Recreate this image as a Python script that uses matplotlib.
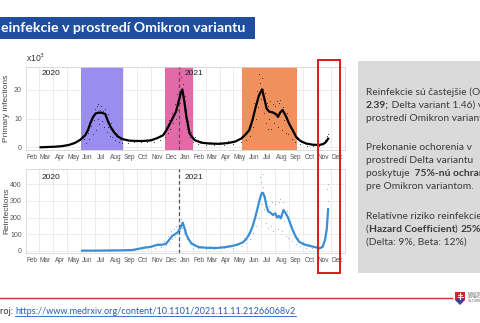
import numpy as np
import matplotlib
matplotlib.use("Agg")
import matplotlib.pyplot as plt
from matplotlib.patches import Rectangle, Polygon

# ---------------- data ----------------
# 7-day average of primary infections (x10^3)
prim_dates = ["2020-03-04", "2020-03-20", "2020-04-05", "2020-04-20", "2020-05-05", "2020-05-18",
              "2020-05-30", "2020-06-10", "2020-06-16", "2020-06-21", "2020-06-27", "2020-07-03",
              "2020-07-10", "2020-07-17", "2020-07-24", "2020-07-30", "2020-08-05", "2020-08-11",
              "2020-08-20", "2020-09-01", "2020-09-15", "2020-10-01", "2020-10-15", "2020-11-01",
              "2020-11-15", "2020-11-28", "2020-12-06", "2020-12-13", "2020-12-20", "2020-12-26",
              "2020-12-31", "2021-01-05", "2021-01-09", "2021-01-13", "2021-01-18", "2021-01-25",
              "2021-02-05", "2021-02-20", "2021-03-10", "2021-04-01", "2021-04-20", "2021-05-05",
              "2021-05-18", "2021-05-28", "2021-06-05", "2021-06-12", "2021-06-19", "2021-06-26",
              "2021-07-03", "2021-07-08", "2021-07-13", "2021-07-19", "2021-07-26", "2021-08-03",
              "2021-08-07", "2021-08-12", "2021-08-17", "2021-08-24", "2021-09-01", "2021-09-08",
              "2021-09-16", "2021-09-25", "2021-10-08", "2021-10-22", "2021-11-05", "2021-11-14",
              "2021-11-20", "2021-11-25"]
prim_avg = [0.0, 0.1, 0.2, 0.4, 0.8, 1.5,
            2.6, 4.2, 6.0, 8.3, 10.5, 11.8,
            12.1, 12.0, 11.6, 9.0, 7.0, 5.5,
            3.8, 2.8, 2.3, 2.2, 2.2, 2.4,
            3.2, 4.2, 6.2, 8.3, 10.5, 12.4,
            15.4, 18.5, 20.2, 16.5, 10.6, 4.8,
            2.5, 1.6, 1.3, 1.2, 1.5, 2.0,
            3.0, 4.5, 6.0, 9.5, 14.0, 18.0,
            20.2, 17.0, 13.5, 12.4, 12.2, 11.5,
            10.6, 12.2, 13.0, 11.0, 8.0, 6.0,
            3.6, 2.2, 1.3, 0.9, 0.8, 1.1,
            1.8, 3.0]

# daily primary infections (x10^3), the dots
prim_dot_dates = ["2020-06-08", "2020-06-12", "2020-06-15", "2020-06-19", "2020-06-23", "2020-06-26",
                  "2020-06-29", "2020-07-01", "2020-07-03", "2020-07-05", "2020-07-07", "2020-07-09",
                  "2020-07-11", "2020-07-13", "2020-07-15", "2020-07-17", "2020-07-19", "2020-07-21",
                  "2020-07-23", "2020-07-25", "2020-07-27", "2020-07-29", "2020-07-31", "2020-08-03",
                  "2020-08-05", "2020-08-08", "2020-08-11", "2020-08-14", "2020-08-18", "2020-08-22",
                  "2020-08-26", "2020-08-30", "2020-09-05", "2020-09-12", "2020-09-19", "2020-09-26",
                  "2020-10-03", "2020-10-10", "2020-10-17", "2020-10-24", "2020-10-31", "2020-11-07",
                  "2020-11-14", "2020-11-21", "2020-11-28", "2020-12-02", "2020-12-05", "2020-12-08",
                  "2020-12-11", "2020-12-14", "2020-12-17", "2020-12-20", "2020-12-23", "2020-12-26",
                  "2020-12-29", "2020-12-31", "2021-01-02", "2021-01-04", "2021-01-06", "2021-01-08",
                  "2021-01-10", "2021-01-12", "2021-01-14", "2021-01-16", "2021-01-18", "2021-01-20",
                  "2021-01-22", "2021-01-25", "2021-01-28", "2021-02-01", "2021-02-05", "2021-02-12",
                  "2021-02-20", "2021-03-01", "2021-03-10", "2021-03-20", "2021-04-01", "2021-04-10",
                  "2021-04-20", "2021-05-01", "2021-05-10", "2021-05-17", "2021-05-24", "2021-05-29",
                  "2021-06-03", "2021-06-07", "2021-06-10", "2021-06-13", "2021-06-16", "2021-06-19",
                  "2021-06-22", "2021-06-25", "2021-06-27", "2021-06-29", "2021-07-01", "2021-07-03",
                  "2021-07-05", "2021-07-07", "2021-07-09", "2021-07-11", "2021-07-13", "2021-07-15",
                  "2021-07-17", "2021-07-19", "2021-07-21", "2021-07-23", "2021-07-26", "2021-07-29",
                  "2021-08-01", "2021-08-04", "2021-08-06", "2021-08-09", "2021-08-12", "2021-08-15",
                  "2021-08-18", "2021-08-21", "2021-08-24", "2021-08-27", "2021-08-30", "2021-09-03",
                  "2021-09-06", "2021-09-10", "2021-09-14", "2021-09-18", "2021-09-25", "2021-10-02",
                  "2021-10-09", "2021-10-16", "2021-10-23", "2021-10-30", "2021-11-06", "2021-11-13",
                  "2021-11-19", "2021-11-23", "2021-11-25"]
prim_dots = [3.0, 1.5, 5.0, 3.0, 7.5, 4.5,
             9.5, 13.5, 6.0, 14.5, 10.0, 15.0,
             8.0, 13.0, 14.5, 9.0, 12.5, 7.0,
             13.5, 10.5, 5.5, 11.5, 7.0, 4.0,
             8.5, 3.5, 6.5, 2.5, 4.5, 2.0,
             3.0, 1.5, 2.8, 1.6, 2.6, 1.7,
             2.5, 1.8, 2.6, 1.7, 2.8, 1.9,
             3.5, 2.5, 5.0, 3.5, 7.0, 5.0,
             9.5, 6.5, 12.0, 8.5, 15.0, 10.0,
             18.5, 13.0, 23.0, 15.5, 24.5, 18.0,
             22.0, 13.0, 18.0, 9.5, 13.5, 6.5,
             9.0, 3.5, 5.5, 2.0, 3.5, 1.2,
             2.2, 0.8, 1.9, 0.9, 1.8, 0.9,
             2.2, 1.3, 2.8, 1.8, 4.0, 2.5,
             6.5, 4.0, 10.5, 7.0, 15.5, 10.0,
             19.5, 14.0, 25.5, 22.5, 17.0, 24.0,
             20.5, 12.0, 19.0, 8.5, 15.5, 6.5,
             14.5, 10.0, 16.0, 6.5, 15.0, 8.5,
             14.5, 16.0, 7.0, 15.5, 16.5, 6.0,
             14.0, 9.5, 5.0, 12.0, 4.5, 8.0,
             3.0, 5.0, 2.0, 3.0, 1.2, 1.8,
             0.6, 1.2, 0.5, 1.0, 0.5, 1.5,
             2.5, 4.0, 4.5]

# 7-day average of reinfections
reinf_dates = ["2020-06-03", "2020-07-01", "2020-08-01", "2020-09-01", "2020-09-22", "2020-10-14",
               "2020-11-01", "2020-11-14", "2020-11-28", "2020-12-05", "2020-12-12", "2020-12-18",
               "2020-12-24", "2020-12-30", "2021-01-05", "2021-01-10", "2021-01-14", "2021-01-18",
               "2021-01-24", "2021-01-29", "2021-02-08", "2021-02-16", "2021-03-05", "2021-03-25",
               "2021-04-10", "2021-04-25", "2021-05-10", "2021-05-22", "2021-05-29", "2021-06-05",
               "2021-06-12", "2021-06-18", "2021-06-23", "2021-06-28", "2021-07-02", "2021-07-05",
               "2021-07-09", "2021-07-13", "2021-07-17", "2021-07-22", "2021-07-27", "2021-08-01",
               "2021-08-05", "2021-08-09", "2021-08-13", "2021-08-19", "2021-08-24", "2021-08-29",
               "2021-09-04", "2021-09-09", "2021-09-15", "2021-09-22", "2021-10-01", "2021-10-10",
               "2021-10-21", "2021-11-01", "2021-11-08", "2021-11-13", "2021-11-18", "2021-11-22",
               "2021-11-25"]
reinf_avg = [2, 2, 3, 4, 6, 18,
             25, 36, 38, 45, 70, 90,
             100, 112, 140, 169, 135, 96,
             65, 46, 30, 22, 19, 18,
             22, 28, 38, 52, 70, 100,
             145, 200, 255, 310, 345, 348,
             320, 265, 235, 228, 215, 225,
             200, 210, 195, 245, 225, 200,
             155, 120, 85, 56, 42, 34,
             27, 20, 18, 25, 66, 130,
             250]

# daily reinfections, the dots
reinf_dot_dates = ["2020-09-20", "2020-09-28", "2020-10-05", "2020-10-12", "2020-10-19", "2020-10-26",
                   "2020-11-02", "2020-11-09", "2020-11-16", "2020-11-23", "2020-11-30", "2020-12-04",
                   "2020-12-08", "2020-12-12", "2020-12-15", "2020-12-18", "2020-12-21", "2020-12-24",
                   "2020-12-27", "2020-12-30", "2021-01-02", "2021-01-04", "2021-01-06", "2021-01-08",
                   "2021-01-11", "2021-01-13", "2021-01-16", "2021-01-19", "2021-01-22", "2021-01-25",
                   "2021-01-29", "2021-02-02", "2021-02-06", "2021-02-12", "2021-02-20", "2021-03-01",
                   "2021-03-10", "2021-03-20", "2021-04-01", "2021-04-10", "2021-04-20", "2021-05-01",
                   "2021-05-10", "2021-05-17", "2021-05-24", "2021-05-29", "2021-06-03", "2021-06-07",
                   "2021-06-10", "2021-06-14", "2021-06-17", "2021-06-20", "2021-06-23", "2021-06-26",
                   "2021-06-28", "2021-06-30", "2021-07-02", "2021-07-04", "2021-07-06", "2021-07-08",
                   "2021-07-10", "2021-07-12", "2021-07-14", "2021-07-16", "2021-07-19", "2021-07-22",
                   "2021-07-25", "2021-07-28", "2021-07-31", "2021-08-03", "2021-08-06", "2021-08-09",
                   "2021-08-12", "2021-08-15", "2021-08-18", "2021-08-21", "2021-08-24", "2021-08-27",
                   "2021-08-30", "2021-09-03", "2021-09-07", "2021-09-11", "2021-09-15", "2021-09-19",
                   "2021-09-24", "2021-09-30", "2021-10-07", "2021-10-14", "2021-10-21", "2021-10-28",
                   "2021-11-04", "2021-11-10", "2021-11-16", "2021-11-20", "2021-11-23", "2021-11-24",
                   "2021-11-25"]
reinf_dots = [12, 4, 20, 10, 28, 12,
              32, 16, 45, 22, 60, 35,
              90, 55, 120, 70, 130, 85,
              150, 100, 180, 120, 190, 140,
              175, 110, 125, 70, 80, 40,
              55, 20, 35, 15, 30, 12,
              28, 10, 30, 15, 38, 20,
              50, 30, 75, 45, 110, 70,
              160, 110, 230, 150, 300, 200,
              440, 410, 280, 460, 380, 250,
              330, 170, 300, 140, 270, 150,
              290, 120, 280, 300, 130, 290,
              310, 120, 290, 180, 90, 240,
              80, 180, 60, 120, 40, 80,
              30, 55, 20, 40, 15, 30,
              12, 28, 60, 120, 370, 400,
              300]

# waves shaded in the top panel
wave_starts = ["2020-06-01", "2020-12-01", "2021-05-20"]
wave_ends = ["2020-09-01", "2021-02-01", "2021-09-18"]

month_labels = ["Feb", "Mar", "Apr", "May", "Jun", "Jul", "Aug", "Sep", "Oct", "Nov", "Dec",
                "Jan", "Feb", "Mar", "Apr", "May", "Jun", "Jul", "Aug", "Sep", "Oct", "Nov", "Dec"]
top_yticks = [0, 10, 20]
bottom_yticks = [0, 100, 200, 300, 400]

# ---------------- figure ----------------
plt.rcParams['font.family'] = ['Liberation Sans', 'DejaVu Sans']
W, H = 480, 323
fig = plt.figure(figsize=(4.8, 3.23), dpi=100)
fig.patch.set_facecolor('white')


def px_axes(x0, y0, x1, y1):
    # axes from pixel box (top-left origin)
    return fig.add_axes([x0 / W, 1 - y1 / H, (x1 - x0) / W, (y1 - y0) / H])


month_starts = np.arange(np.datetime64('2020-03'), np.datetime64('2022-01'),
                         np.timedelta64(1, 'M')).astype('datetime64[D]')
month_mids = np.arange(np.datetime64('2020-02'), np.datetime64('2022-01'),
                       np.timedelta64(1, 'M')).astype('datetime64[D]') + np.timedelta64(14, 'D')


def style_panel(ax, yticks, ylim):
    ax.set_xlim(np.datetime64('2020-02-01'), np.datetime64('2022-01-01'))
    ax.set_ylim(*ylim)
    ax.set_xticks(month_starts)
    ax.set_xticklabels([])
    ax.set_xticks(month_mids, minor=True)
    ax.set_xticklabels(month_labels, minor=True)
    ax.set_yticks(yticks)
    ax.grid(True, which='major', color='#e9e9e9', lw=0.6, zorder=0)
    ax.tick_params(which='both', length=0, labelsize=4.7, labelcolor='#555555', pad=3)
    ax.tick_params(axis='y', labelsize=5.0)
    for s in ax.spines.values():
        s.set_color('#d6d6d6')
        s.set_linewidth(0.6)
    ax.set_axisbelow(True)
    ax.axvline(np.datetime64('2021-01-01'), color='#555555', ls=(0, (3, 2)), lw=0.9, zorder=4)


# top panel: primary infections
ax1 = px_axes(26, 67, 345, 150)
style_panel(ax1, top_yticks, (-0.95, 28.0))
wave_colors = ['#9b8cf0', '#e16aa9', '#f0905c']
for s, e, c in zip(wave_starts, wave_ends, wave_colors):
    ax1.axvspan(np.datetime64(s), np.datetime64(e), color=c, lw=0, zorder=1)
ax1.scatter(np.array(prim_dot_dates, dtype='datetime64[D]'), prim_dots, s=1.5, color='#222222',
            marker='.', lw=0, zorder=3)
ax1.plot(np.array(prim_dates, dtype='datetime64[D]'), prim_avg, color='black', lw=1.6, zorder=5)
ax1.text(np.datetime64('2020-03-06'), 25.8, '2020', fontsize=6, color='#222222', va='center')
ax1.text(np.datetime64('2021-01-14'), 25.8, '2021', fontsize=6, color='#222222', va='center')

# bottom panel: reinfections
ax2 = px_axes(26, 169, 345, 253)
style_panel(ax2, bottom_yticks, (-12, 490))
ax2.scatter(np.array(reinf_dot_dates, dtype='datetime64[D]'), reinf_dots, s=1.5, color='#6aaee0',
            marker='.', lw=0, zorder=3)
ax2.plot(np.array(reinf_dates, dtype='datetime64[D]'), reinf_avg, color='#3b8dd6', lw=1.6, zorder=5)
ax2.text(np.datetime64('2020-03-06'), 442, '2020', fontsize=6, color='#222222', va='center')
ax2.text(np.datetime64('2021-01-14'), 442, '2021', fontsize=6, color='#222222', va='center')

# ---------------- slide overlay in pixel coordinates ----------------
ov = fig.add_axes([0, 0, 1, 1], zorder=10)
ov.set_xlim(0, W)
ov.set_ylim(H, 0)
ov.axis('off')
ov.patch.set_alpha(0)

sans = ['Lato', 'DejaVu Sans']

# title bar
ov.add_patch(Rectangle((0, 17), 255, 22, color='#1f4e9e', lw=0))
ov.text(1, 28.5, 'einfekcie v prostredí Omikron variantu', color='white', fontsize=10.2,
        fontweight='bold', family=sans, va='center', ha='left')

# axis titles
ov.text(26, 58, 'x10$^{3}$', fontsize=6.2, color='#333333', va='center')
ov.text(7, 108, 'Primary infections', rotation=90, fontsize=6, color='#444444', va='center', ha='center')
ov.text(7, 211, 'Reinfections', rotation=90, fontsize=6, color='#444444', va='center', ha='center')

# red highlight box over Nov-Dec 2021
ov.add_patch(Rectangle((318, 60), 22, 213, fill=False, edgecolor='#d7191c', lw=1.4))

# gray info box
ov.add_patch(Rectangle((358, 61), 130, 212, color='#dadada', lw=0))


def rich_line(x, y, parts, size=7.4):
    t = None
    for s, bold in parts:
        w = 'bold' if bold else 'normal'
        if t is None:
            t = ov.text(x, y, s, fontsize=size, fontweight=w, family=sans, color='#3a3a3a',
                        va='bottom', ha='left')
        else:
            t = ov.annotate(s, xy=(1, 0), xycoords=t, fontsize=size, fontweight=w, family=sans,
                            color='#3a3a3a', va='bottom', ha='left')
    return t


lines = [
    (97, [("Reinfekcie sú častejšie (Omikron", False)]),
    (110, [("2.39;", True), (" Delta variant 1.46) v", False)]),
    (123, [("prostredí Omikron variantu", False)]),
    (152, [("Prekonanie ochorenia v", False)]),
    (165, [("prostredí Delta variantu", False)]),
    (178, [("poskytuje ", False), (" 75%-nú ochranu", True)]),
    (191, [("pre Omikron variantom.", False)]),
    (221, [("Relatívne riziko reinfekcie", False)]),
    (234, [("(", False), ("Hazard Coefficient", True), (") ", False), ("25%", True)]),
    (247, [("(Delta: 9%, Beta: 12%)", False)]),
]
for y, parts in lines:
    rich_line(366, y, parts)

# bottom red rule
ov.plot([0, 452], [298, 298], color='#c8312b', lw=1.0)

# source line with underlined link
src = ov.text(0, 312, 'roj: ', fontsize=6.6, family=sans, color='#333333', va='center', ha='left')
link = ov.annotate('https://www.medrxiv.org/content/10.1101/2021.11.11.21266068v2', xy=(1, 0.5),
                   xycoords=src, fontsize=6.6, family=sans, color='#1f5fb8', va='center', ha='left')
r = fig.canvas.get_renderer()
bb = link.get_window_extent(r)
inv = ov.transData.inverted()
(lx0, ly0), (lx1, _) = inv.transform([(bb.x0, bb.y0), (bb.x1, bb.y0)])
ov.plot([lx0, lx1], [ly0 - 0.5, ly0 - 0.5], color='#1f5fb8', lw=0.6)

# ministry logo
ov.add_patch(Polygon([(455, 292), (465, 292), (465, 300), (460, 305), (455, 300)],
                     closed=True, color='#d9242f', lw=0))
ov.add_patch(Polygon([(455.5, 300), (458, 298), (460, 299.5), (462, 298), (464.5, 300), (460, 304.5)],
                     closed=True, color='#1d4f9f', lw=0))
ov.plot([460, 460], [293, 299], color='white', lw=0.8)
ov.plot([458, 462], [294.5, 294.5], color='white', lw=0.6)
ov.plot([457.5, 462.5], [296.5, 296.5], color='white', lw=0.6)
for y, s in zip([294, 297.5, 301], ['MINISTERSTVO', 'ZDRAVOTNÍCTVA', 'SLOVENSKEJ REPUBLIKY']):
    ov.text(467.5, y, s, fontsize=2.4, color='#555555', va='center', ha='left')

fig.savefig('out.png', dpi=100)
